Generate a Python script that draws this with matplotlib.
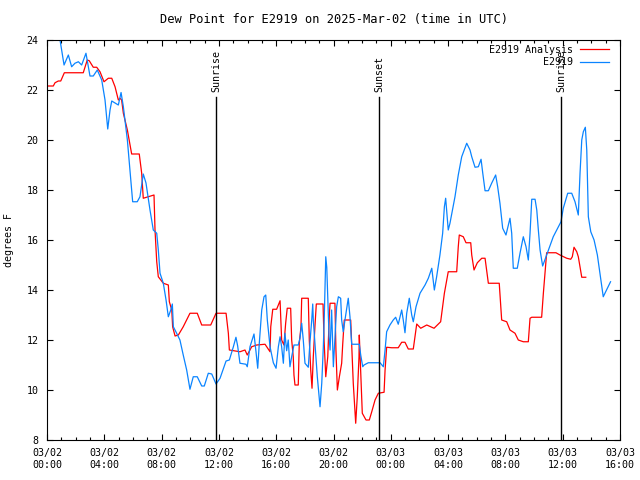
import datetime as dt
import matplotlib
matplotlib.use('Agg')
import matplotlib.pyplot as plt
import matplotlib.dates as mdates
import pandas as pd

plt.rcParams['font.family'] = 'DejaVu Sans Mono'
plt.rcParams['font.size'] = 7.2

base = pd.Timestamp('2025-03-02 00:00')

# hours after 03/02 00:00 UTC, dew point in F
analysis_hours = [0.00, 0.44, 0.56, 0.79, 0.96, 1.21, 2.53, 2.81, 2.95, 3.23, 3.47, 3.70, 3.98, 4.28,
                  4.52, 4.75, 4.98, 5.10, 5.21, 5.33, 5.61, 5.91, 6.44, 6.61, 6.72, 7.07, 7.47, 7.54,
                  7.66, 7.77, 8.12, 8.47, 8.54, 8.71, 8.77, 8.94, 9.17, 9.51, 9.98, 10.49, 10.80, 11.43,
                  11.80, 12.50, 12.66, 12.73, 13.47, 13.82, 13.98, 14.29, 14.64, 15.22, 15.57, 15.62,
                  15.76, 16.03, 16.27, 16.38, 16.54, 16.66, 16.77, 17.01, 17.08, 17.19, 17.24, 17.31,
                  17.54, 17.61, 17.73, 17.78, 18.24, 18.31, 18.41, 18.50, 18.59, 18.71, 18.80, 19.27,
                  19.34, 19.46, 19.60, 19.71, 19.76, 20.10, 20.17, 20.27, 20.41, 20.57, 20.64, 20.75,
                  21.20, 21.27, 21.38, 21.50, 21.55, 21.66, 21.78, 21.80, 21.90, 22.01, 22.27, 22.50,
                  22.67, 22.90, 23.13, 23.53, 23.60, 23.71, 24.06, 24.52, 24.76, 24.99, 25.22, 25.57,
                  25.69, 25.81, 26.09, 26.51, 27.02, 27.48, 27.62, 27.74, 28.01, 28.60, 28.71, 28.78,
                  29.06, 29.25, 29.58, 29.65, 29.81, 30.04, 30.35, 30.58, 30.69, 30.81, 31.57, 31.74,
                  32.09, 32.32, 32.67, 32.90, 33.25, 33.60, 33.72, 33.84, 34.53, 34.65, 34.76, 34.88,
                  35.53, 35.81, 36.28, 36.56, 36.67, 36.79, 36.98, 37.09, 37.21, 37.33, 37.61]
analysis_dewpt = [22.16, 22.16, 22.29, 22.36, 22.36, 22.69, 22.69, 23.20, 23.17, 22.91, 22.91, 22.73, 22.33, 22.47,
                  22.47, 22.13, 21.60, 21.67, 21.60, 21.07, 20.40, 19.44, 19.44, 18.67, 17.67, 17.73, 17.80, 16.40,
                  15.13, 14.53, 14.27, 14.20, 13.53, 13.20, 12.53, 12.16, 12.20, 12.53, 13.07, 13.07, 12.60, 12.60,
                  13.07, 13.07, 12.27, 11.60, 11.53, 11.60, 11.40, 11.73, 11.80, 11.83, 11.53, 12.53,
                  13.23, 13.23, 13.57, 12.00, 11.80, 12.67, 13.27, 13.27, 12.00, 11.33, 10.60, 10.20,
                  10.20, 11.87, 12.53, 13.67, 13.67, 12.00, 10.80, 10.07, 11.33, 12.60, 13.44, 13.44,
                  12.00, 10.53, 11.33, 13.00, 13.47, 13.47, 11.60, 10.00, 10.53, 11.07, 11.80, 12.80,
                  12.80, 11.80, 10.27, 9.13, 8.67, 9.73, 11.33, 12.20, 10.67, 9.07, 8.80, 8.80,
                  9.13, 9.60, 9.87, 9.91, 10.80, 11.71, 11.69, 11.69, 11.91, 11.91, 11.64, 11.64,
                  12.13, 12.64, 12.47, 12.60, 12.47, 12.73, 13.33, 13.87, 14.73, 14.73, 15.73, 16.20,
                  16.13, 15.89, 15.89, 15.40, 14.80, 15.09, 15.27, 15.27, 14.80, 14.27, 14.27, 12.80,
                  12.73, 12.40, 12.27, 12.00, 11.93, 11.93, 12.87, 12.91, 12.91, 13.87, 14.67, 15.49,
                  15.49, 15.40, 15.27, 15.23, 15.33, 15.71, 15.53, 15.33, 14.93, 14.51, 14.51]

obs_hours = [0.00, 0.91, 1.19, 1.49, 1.72, 1.95, 2.19, 2.42, 2.72, 3.00, 3.23, 3.51, 3.82, 4.05, 4.24,
             4.40, 4.52, 4.98, 5.17, 5.33, 5.61, 5.79, 5.98, 6.30, 6.49, 6.72, 6.91, 7.19, 7.42, 7.66,
             7.77, 7.89, 8.12, 8.31, 8.47, 8.64, 8.75, 8.82, 9.05, 9.28, 9.51, 9.75, 9.98, 10.21, 10.49,
             10.80, 10.98, 11.26, 11.50, 11.80, 12.08, 12.50, 12.73, 13.01, 13.19, 13.31, 13.47, 13.89,
             13.98, 14.17, 14.45, 14.59, 14.71, 14.82, 14.99, 15.15, 15.27, 15.38, 15.57, 15.80, 15.99,
             16.15, 16.27, 16.38, 16.50, 16.61, 16.73, 16.84, 16.96, 17.08, 17.24, 17.54, 17.66, 17.78,
             17.89, 18.01, 18.24, 18.36, 18.48, 18.55, 18.59, 18.71, 18.87, 19.06, 19.18, 19.29, 19.36,
             19.46, 19.53, 19.60, 19.69, 19.76, 19.87, 19.99, 20.10, 20.22, 20.34, 20.50, 20.57, 20.68,
             20.80, 21.03, 21.15, 21.27, 21.80, 21.90, 22.04, 22.13, 22.43, 23.25, 23.48, 23.60, 23.71,
             23.94, 24.17, 24.34, 24.52, 24.76, 24.87, 24.99, 25.11, 25.29, 25.46, 25.57, 25.76, 26.04,
             26.39, 26.62, 26.86, 26.97, 27.04, 27.20, 27.43, 27.62, 27.74, 27.83, 28.01, 28.13, 28.48,
             28.71, 28.95, 29.30, 29.53, 29.65, 29.88, 30.11, 30.30, 30.42, 30.58, 30.81, 31.04, 31.32,
             31.46, 31.62, 31.81, 32.04, 32.32, 32.44, 32.55, 32.83, 33.02, 33.25, 33.44, 33.60, 33.72,
             33.84, 34.07, 34.19, 34.30, 34.42, 34.60, 34.69, 34.88, 35.34, 35.88, 36.04, 36.35, 36.63,
             36.86, 37.09, 37.21, 37.33, 37.44, 37.58, 37.68, 37.79, 37.96, 38.19, 38.42, 38.60, 38.83,
             39.06, 39.34]
obs_dewpt = [24.00, 24.00, 23.00, 23.40, 22.93, 23.07, 23.13, 23.00, 23.47, 22.56, 22.56, 22.80, 22.40, 21.60, 20.44,
             21.20, 21.56, 21.40, 21.90, 21.33, 20.00, 18.80, 17.53, 17.53, 17.73, 18.64, 18.28, 17.20, 16.40, 16.27,
             15.60, 14.67, 14.27, 13.60, 12.93, 13.20, 13.44, 12.53, 12.27, 12.00, 11.40, 10.80, 10.03, 10.53, 10.53,
             10.16, 10.16, 10.67, 10.64, 10.24, 10.47, 11.16, 11.20, 11.73, 12.11, 11.76, 11.07, 11.03,
             10.93, 11.73, 12.24, 11.53, 10.87, 11.87, 13.20, 13.73, 13.80, 12.80, 11.73, 11.09, 10.87,
             11.73, 12.13, 11.73, 11.07, 12.27, 11.57, 12.00, 10.93, 11.33, 11.80, 11.80, 12.07, 12.67,
             12.00, 11.07, 10.91, 11.93, 12.80, 13.44, 12.80, 11.80, 10.53, 9.33, 10.27, 11.73, 13.00,
             15.33, 14.91, 13.73, 12.13, 11.60, 13.20, 10.93, 12.07, 13.33, 13.73, 13.67, 12.80, 12.33,
             12.80, 13.67, 12.93, 11.83, 11.83, 11.40, 10.93, 11.00, 11.09, 11.09, 10.93, 11.60, 12.33,
             12.60, 12.80, 12.91, 12.63, 13.20, 12.80, 12.29, 13.07, 13.67, 13.00, 12.73, 13.33, 13.87,
             14.20, 14.47, 14.87, 14.33, 14.00, 14.53, 15.40, 16.27, 17.33, 17.67, 16.40, 16.67, 17.73,
             18.60, 19.33, 19.87, 19.60, 19.33, 18.91, 18.93, 19.23, 18.67, 17.97, 17.97, 18.27, 18.60,
             18.13, 17.47, 16.47, 16.20, 16.87, 16.27, 14.87, 14.87, 15.47, 16.13, 15.73, 15.20, 16.27,
             17.63, 17.63, 17.20, 16.40, 15.60, 14.96, 15.10, 15.40, 16.13, 16.73, 17.27, 17.87, 17.87,
             17.53, 17.00, 18.67, 20.00, 20.33, 20.51, 19.60, 16.93, 16.33, 16.00, 15.40, 14.67, 13.73,
             14.00, 14.33]

events = ['Sunrise', 'Sunset', 'Sunrise']
event_hours = [11.80, 23.20, 35.90]

t_an = base + pd.to_timedelta(analysis_hours, unit='h')
t_obs = base + pd.to_timedelta(obs_hours, unit='h')

fig = plt.figure(figsize=(6.4, 4.8), dpi=100)
ax = fig.add_axes([47/640, 40/480, 573/640, 400/480])

ax.plot(t_an, analysis_dewpt, color='#ff0000', lw=0.9, label='E2919 Analysis')
ax.plot(t_obs, obs_dewpt, color='#0a84ff', lw=0.9, label='E2919')

for name, h in zip(events, event_hours):
    t = base + pd.Timedelta(hours=h)
    ax.plot([t, t], [8, 21.7], color='black', lw=1)
    ax.text(t, 21.93, name, rotation=90, ha='center', va='bottom')

ax.set_xlim(base, base + pd.Timedelta(hours=40))
ax.set_ylim(8, 24)
ax.set_yticks(range(8, 25, 2))
ax.xaxis.set_major_locator(mdates.HourLocator(byhour=range(0, 24, 4)))
ax.xaxis.set_minor_locator(mdates.HourLocator())
ax.xaxis.set_major_formatter(mdates.DateFormatter('%m/%d\n%H:%M'))
ax.tick_params(which='both', direction='in', top=True, right=True, width=0.8)
ax.tick_params(which='major', length=4)
ax.tick_params(which='minor', length=2)
ax.tick_params(axis='x', pad=6)
ax.tick_params(axis='y', pad=6)
for s in ax.spines.values():
    s.set_linewidth(0.8)

ax.set_ylabel('degrees F', labelpad=9)
ax.set_title('Dew Point for E2919 on 2025-Mar-02 (time in UTC)', pad=12)
ax.legend(loc='upper right', bbox_to_anchor=(1 - 6/573, 1), frameon=False, markerfirst=False,
          handlelength=2.9, handletextpad=0.7, labelspacing=0.25, borderaxespad=0.2, borderpad=0.3)

fig.savefig('out.png', dpi=100)
